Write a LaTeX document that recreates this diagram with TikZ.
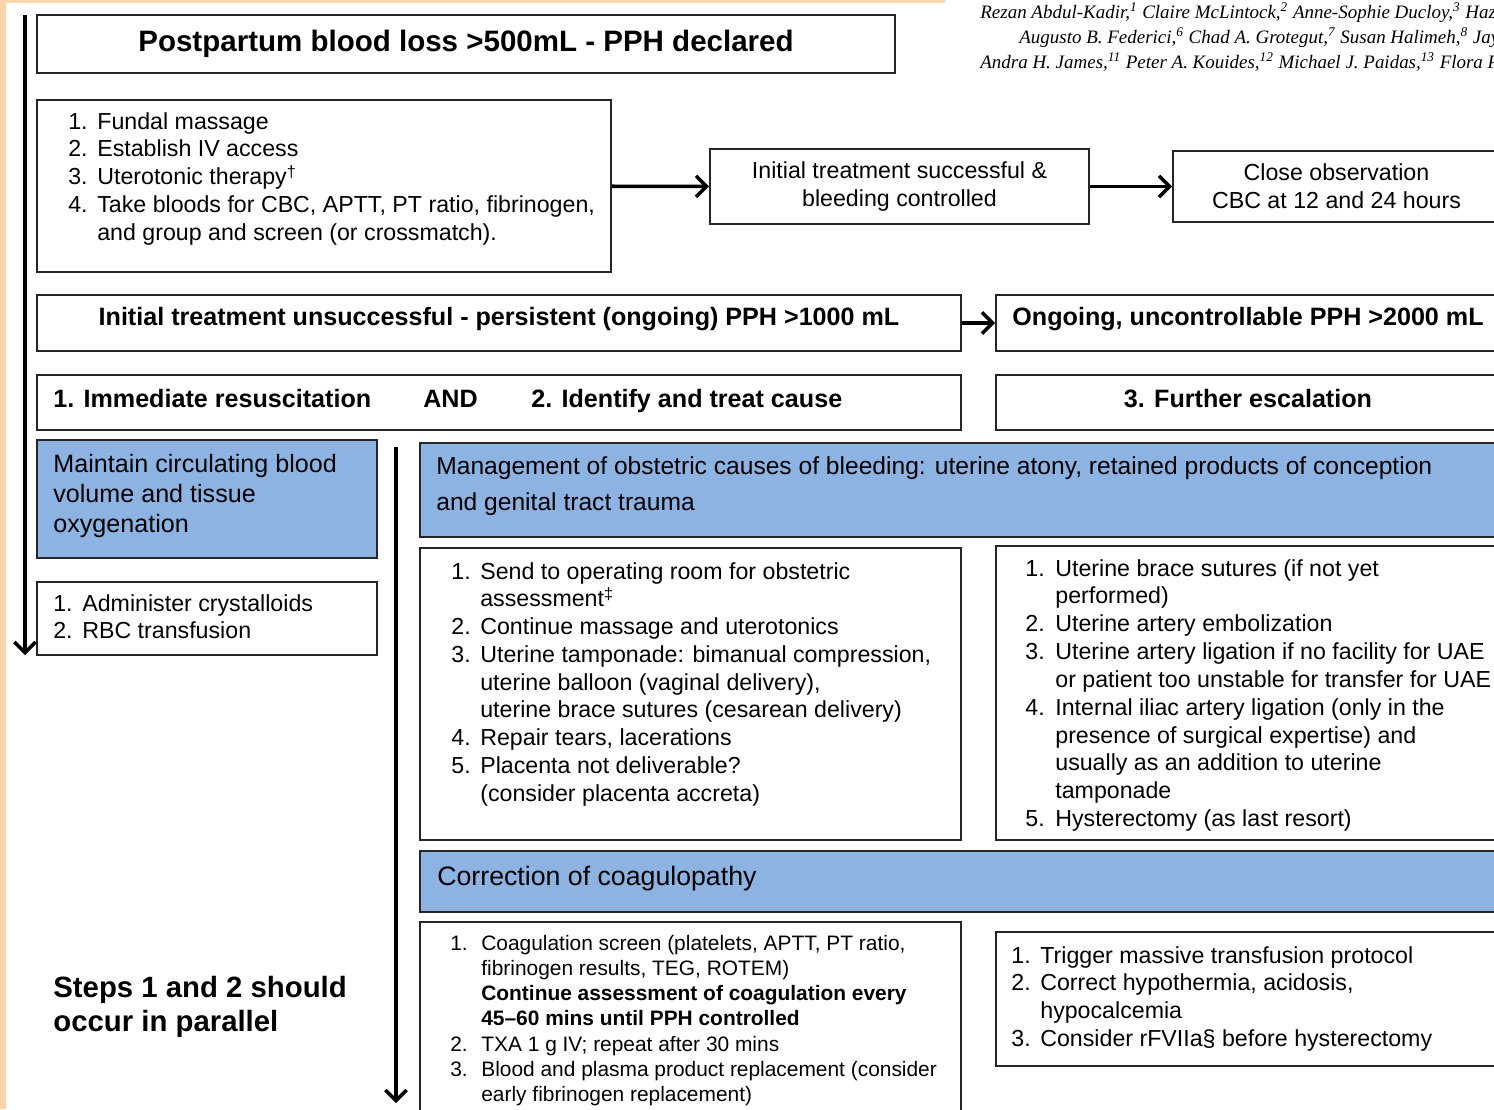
\documentclass[tikz,border=0pt]{standalone}
\usepackage{fontspec}
\setmainfont{Liberation Sans}
\newfontfamily\authorfont{Liberation Serif}
\usetikzlibrary{fit,arrows.meta}
\definecolor{peach}{RGB}{253,213,168}
\definecolor{cblue}{RGB}{141,179,226}
\tikzstyle{box}   = [draw=black!85, line width=1.1pt, inner sep=0pt]
\tikzstyle{bluebox} = [box, fill=cblue]
\tikzstyle{txt}   = [inner sep=0pt, anchor=base west, align=left]
\tikzstyle{ctxt}  = [inner sep=0pt, align=center]
\tikzstyle{arrow} = [line width=2pt, -{Straight Barb[length=6pt,width=12pt]}]
\newcommand\titlefont{\fontsize{16.8}{20}\selectfont\bfseries}
\newcommand\headfont{\fontsize{14.3}{17}\selectfont\bfseries}
\newcommand\listfont{\fontsize{13.2}{15.9}\selectfont}
\newcommand\smallfont{\fontsize{11.9}{14.4}\selectfont}
\newcommand\authfont{\authorfont\itshape\fontsize{10.8}{14}\selectfont}

\begin{document}
\begin{tikzpicture}[x=0.02cm, y=-0.02cm]
  \useasboundingbox (0,0) rectangle (1494,1109);
  \clip (0,0) rectangle (1494,1109);
  \fill[peach] (0,0) rectangle (6,1109);
  \fill[peach] (0,0) rectangle (945,3);

  % authors
  \node[txt, font=\authfont] (au1) at (980,18)
    {Rezan Abdul-Kadir,\textsuperscript{1} Claire McLintock,\textsuperscript{2} Anne-Sophie Ducloy,\textsuperscript{3} Hazel};
  \node[txt, font=\authfont] (au2) at (1019,43)
    {Augusto B. Federici,\textsuperscript{6} Chad A. Grotegut,\textsuperscript{7} Susan Halimeh,\textsuperscript{8} Jay};
  \node[txt, font=\authfont] (au3) at (980,68)
    {Andra H. James,\textsuperscript{11} Peter A. Kouides,\textsuperscript{12} Michael J. Paidas,\textsuperscript{13} Flora Peyvandi};

  % boxes
  \node[box, fit={(37,15) (895,73)}] (title) {};
  \node[box, fit={(37,100) (611,272)}] (first) {};
  \node[box, fit={(710,149) (1089,224)}] (success) {};
  \node[box, fit={(1173,151) (1500,222)}] (observe) {};
  \node[box, fit={(37,295) (961,351)}] (persist) {};
  \node[box, fit={(996,295) (1500,351)}] (uncontrol) {};
  \node[box, fit={(37,375) (961,430)}] (steps) {};
  \node[box, fit={(996,375) (1500,430)}] (escal) {};
  \node[bluebox, fit={(37,440) (377,558)}] (maintain) {};
  \node[box, fit={(37,582) (377,655)}] (resus) {};
  \node[bluebox, fit={(420,443) (1500,537)}] (manage) {};
  \node[box, fit={(420,548) (961,840)}] (obst) {};
  \node[box, fit={(996,546) (1500,840)}] (surg) {};
  \node[bluebox, fit={(420,851) (1500,912)}] (coag) {};
  \node[box, fit={(420,922) (961,1115)}] (coaglist) {};
  \node[box, fit={(996,932) (1500,1066)}] (massive) {};

  % centred texts
  \node[ctxt, font=\titlefont] (titletxt) at (title) {Postpartum blood loss >500mL - PPH declared};
  \node[ctxt, font=\listfont] (successtxt) at (success)
    {Initial treatment successful \&\\ bleeding controlled};
  \node[ctxt, font=\listfont] (observetxt) at (observe)
    {Close observation\\ CBC at 12 and 24 hours};
  \node[ctxt, font=\headfont] (persisttxt) at ([yshift=2pt]persist.center)
    {Initial treatment unsuccessful - persistent (ongoing) PPH >1000 mL};
  \node[ctxt, font=\headfont] (uncontroltxt) at ([yshift=2pt]uncontrol.center)
    {Ongoing, uncontrollable PPH >2000 mL};
  \node[ctxt, font=\headfont] (escaltxt) at ([yshift=2pt]escal.center) {3. Further escalation};

  % left aligned texts
  \node[txt, font=\listfont] (firstlist) at (68,129) {\begin{tabular}[t]{@{}p{0.58cm}@{}l@{}}
    1. & Fundal massage\\
    2. & Establish IV access\\
    3. & Uterotonic therapy\textsuperscript{†}\\
    4. & Take bloods for CBC, APTT, PT ratio, fibrinogen,\\
       & and group and screen (or crossmatch).
  \end{tabular}};
  \node[txt, font=\headfont] (step1) at (53,407) {1. Immediate resuscitation};
  \node[txt, font=\headfont] (and) at (423,407) {AND};
  \node[txt, font=\headfont] (step2) at (531,407) {2. Identify and treat cause};
  \node[txt, font=\fontsize{14.3}{17.1}\selectfont] (maintaintxt) at (53,472)
    {\begin{tabular}[t]{@{}l@{}}Maintain circulating blood\\ volume and tissue\\ oxygenation\end{tabular}};
  \node[txt, font=\listfont] (resuslist) at (53,611) {\begin{tabular}[t]{@{}p{0.58cm}@{}l@{}}
    1. & Administer crystalloids\\
    2. & RBC transfusion
  \end{tabular}};
  \node[txt, font=\fontsize{14}{20.5}\selectfont] (managetxt) at (436,474)
    {\begin{tabular}[t]{@{}l@{}}Management of obstetric causes of bleeding: uterine atony, retained products of conception\\ and genital tract trauma\end{tabular}};
  \node[txt, font=\fontsize{13.2}{15.8}\selectfont] (obstlist) at (451,579) {\begin{tabular}[t]{@{}p{0.58cm}@{}l@{}}
    1. & Send to operating room for obstetric\\
       & assessment\textsuperscript{‡}\\
    2. & Continue massage and uterotonics\\
    3. & Uterine tamponade: bimanual compression,\\
       & uterine balloon (vaginal delivery),\\
       & uterine brace sutures (cesarean delivery)\\
    4. & Repair tears, lacerations\\
    5. & Placenta not deliverable?\\
       & (consider placenta accreta)
  \end{tabular}};
  \node[txt, font=\fontsize{13.2}{15.85}\selectfont] (surglist) at (1025,576) {\begin{tabular}[t]{@{}p{0.6cm}@{}l@{}}
    1. & Uterine brace sutures (if not yet\\
       & performed)\\
    2. & Uterine artery embolization\\
    3. & Uterine artery ligation if no facility for UAE\\
       & or patient too unstable for transfer for UAE\\
    4. & Internal iliac artery ligation (only in the\\
       & presence of surgical expertise) and\\
       & usually as an addition to uterine\\
       & tamponade\\
    5. & Hysterectomy (as last resort)
  \end{tabular}};
  \node[txt, font=\fontsize{15.2}{18}\selectfont] (coagtxt) at (437,885) {Correction of coagulopathy};
  \node[txt, font=\smallfont] (coaglisttxt) at (450,950) {\begin{tabular}[t]{@{}p{0.62cm}@{}l@{}}
    1. & Coagulation screen (platelets, APTT, PT ratio,\\
       & fibrinogen results, TEG, ROTEM)\\
       & \textbf{Continue assessment of coagulation every}\\
       & \textbf{45--60 mins until PPH controlled}\\
    2. & TXA 1 g IV; repeat after 30 mins\\
    3. & Blood and plasma product replacement (consider\\
       & early fibrinogen replacement)
  \end{tabular}};
  \node[txt, font=\listfont] (massivelist) at (1011,963) {\begin{tabular}[t]{@{}p{0.58cm}@{}l@{}}
    1. & Trigger massive transfusion protocol\\
    2. & Correct hypothermia, acidosis,\\
       & hypocalcemia\\
    3. & Consider rFVIIa§ before hysterectomy
  \end{tabular}};
  \node[txt, font=\fontsize{16.7}{19.9}\selectfont\bfseries] (parallel) at (53,997)
    {\begin{tabular}[t]{@{}l@{}}Steps 1 and 2 should\\ occur in parallel\end{tabular}};

  % arrows
  \coordinate (lefttop) at (25,15);
  \coordinate (leftbot) at (25,655);
  \coordinate (midtop) at (396,447);
  \coordinate (midbot) at (396,1103);
  \draw[arrow] (lefttop) -- (leftbot);
  \draw[arrow] (midtop) -- (midbot);
  \draw[arrow] (first) -- (success);
  \draw[arrow] (success) -- (observe);
  \draw[arrow] (persist) -- (uncontrol);
\end{tikzpicture}
\end{document}
